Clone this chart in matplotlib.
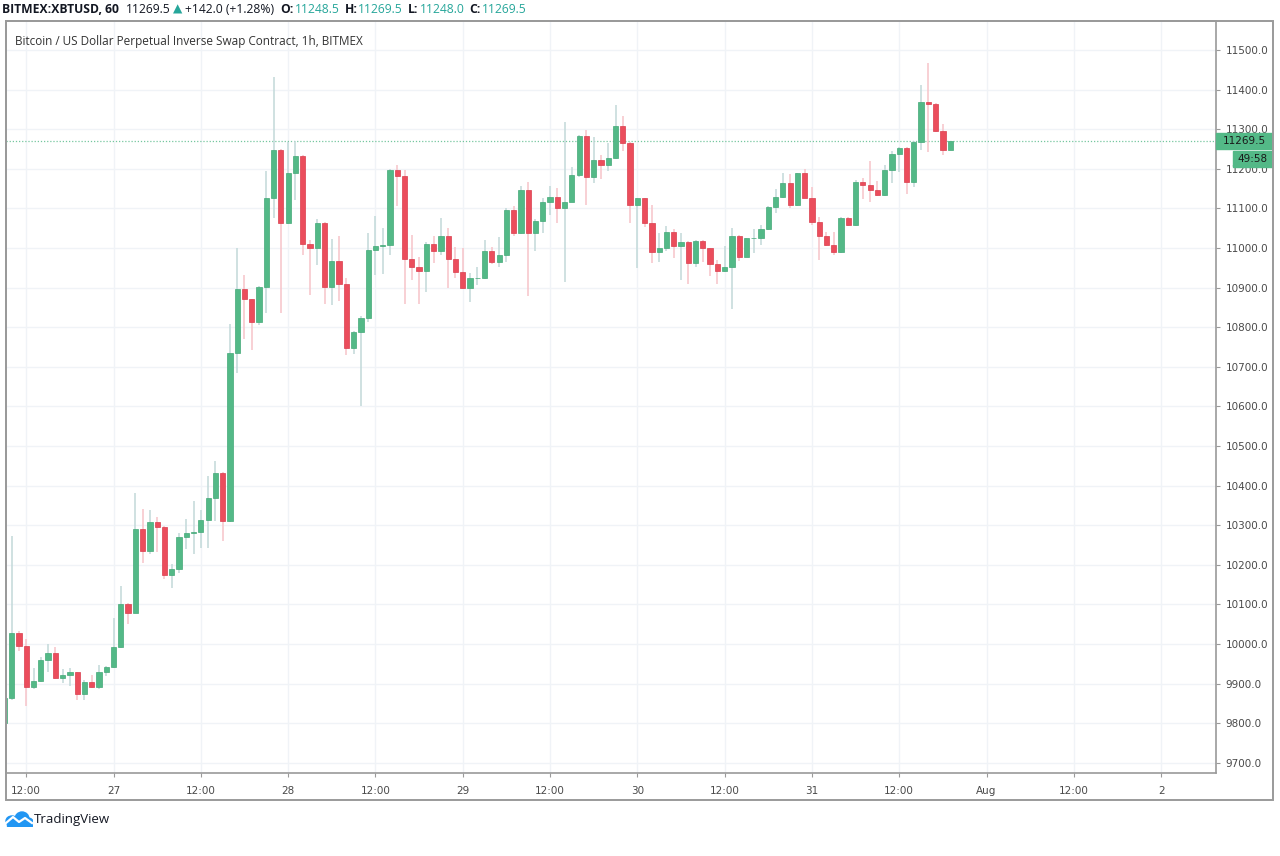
import matplotlib
matplotlib.use("Agg")
import matplotlib.pyplot as plt
import numpy as np
from matplotlib.patches import Rectangle, Ellipse
from matplotlib.transforms import blended_transform_factory

# Dados OHLC (velas de 1h, BITMEX:XBTUSD, a partir de 26 jul 09:00)
opens = [9800, 9863, 10027, 9995, 9892, 9907, 9959, 9978, 9915, 9922,
         9928, 9873, 9903, 9890, 9929, 9942, 9993, 10102, 10079, 10289,
         10234, 10308, 10295, 10174, 10190, 10271, 10279, 10283, 10314, 10368,
         10432, 10310, 10735, 10896, 10870, 10813, 10901, 11126, 11247, 11063,
         11189, 11232, 11010, 11000, 11064, 10901, 10966, 10909, 10746, 10788,
         10824, 10994, 11006, 11008, 11197, 11182, 10972, 10951, 10942, 11010,
         10991, 11031, 10971, 10940, 10900, 10923, 10925, 10993, 10964, 10981,
         11095, 11037, 11146, 11037, 11069, 11117, 11129, 11101, 11117, 11184,
         11283, 11180, 11222, 11210, 11227, 11308, 11265, 11109, 11125, 11062,
         10989, 10999, 11041, 11006, 11016, 10961, 11018, 10999, 10959, 10942,
         10953, 11030, 10978, 11024, 11026, 11048, 11104, 11129, 11165, 11108,
         11188, 11127, 11066, 11029, 11008, 10989, 11075, 11058, 11167, 11160,
         11145, 11134, 11197, 11237, 11253, 11166, 11268, 11369, 11363, 11295,
         11248.5]
highs = [9870, 10272, 10033, 10013, 9938, 9967, 9999, 9993, 9936, 9940,
         9930, 9908, 9921, 9946, 9944, 10066, 10146, 10104, 10382, 10341,
         10339, 10320, 10297, 10203, 10281, 10316, 10362, 10337, 10423, 10462,
         10434, 10809, 11000, 10931, 10872, 10905, 11194, 11432, 11250, 11268,
         11270, 11235, 11021, 11073, 11066, 11022, 11029, 10925, 10790, 10827,
         11038, 11080, 11050, 11200, 11210, 11197, 11033, 10978, 11016, 11031,
         11075, 11050, 11003, 11000, 10936, 10953, 11020, 11003, 11027, 11101,
         11107, 11156, 11166, 11072, 11126, 11156, 11152, 11318, 11204, 11286,
         11298, 11281, 11235, 11265, 11362, 11332, 11268, 11127, 11127, 11109,
         11037, 11055, 11047, 11037, 11018, 11020, 11020, 11001, 10970, 11005,
         11050, 11032, 11024, 11047, 11058, 11106, 11148, 11188, 11187, 11190,
         11198, 11155, 11079, 11039, 11039, 11077, 11077, 11171, 11177, 11220,
         11169, 11209, 11245, 11255, 11255, 11270, 11411, 11468, 11365, 11313,
         11269.5]
lows = [9790, 9858, 9982, 9844, 9886, 9903, 9928, 9911, 9901, 9894,
        9859, 9859, 9888, 9887, 9918, 9940, 9990, 10051, 10077, 10205,
        10226, 10232, 10165, 10142, 10180, 10239, 10226, 10243, 10241, 10310,
        10261, 10308, 10683, 10769, 10742, 10805, 10836, 11075, 10836, 11060,
        11121, 10981, 10880, 10958, 10859, 10855, 10866, 10729, 10733, 10601,
        10813, 10931, 10933, 10981, 11105, 10858, 10920, 10858, 10889, 10961,
        10982, 10900, 10923, 10895, 10864, 10906, 10922, 10960, 10951, 10965,
        11029, 11035, 10878, 10991, 11037, 11084, 11063, 10914, 11115, 11180,
        11109, 11163, 11174, 11195, 11225, 11244, 11062, 10948, 11054, 10963,
        10965, 10991, 10974, 10919, 10909, 10953, 10965, 10929, 10909, 10940,
        10845, 10968, 10976, 10986, 11008, 11046, 11089, 11127, 11100, 11106,
        11125, 11058, 10970, 11006, 10981, 10987, 11056, 11056, 11123, 11117,
        11132, 11132, 11163, 11192, 11136, 11155, 11247, 11243, 11293, 11234,
        11248]
closes = [9863, 10027, 9995, 9892, 9907, 9959, 9978, 9915, 9922, 9928,
          9873, 9903, 9890, 9929, 9942, 9993, 10102, 10079, 10289, 10234,
          10308, 10295, 10174, 10190, 10271, 10279, 10283, 10314, 10368, 10432,
          10310, 10735, 10896, 10870, 10813, 10901, 11126, 11247, 11063, 11189,
          11232, 11010, 11000, 11064, 10901, 10966, 10909, 10746, 10788, 10824,
          10994, 11006, 11008, 11197, 11182, 10972, 10951, 10942, 11010, 10991,
          11031, 10971, 10940, 10900, 10923, 10925, 10993, 10964, 10981, 11095,
          11037, 11146, 11037, 11069, 11117, 11129, 11101, 11117, 11184, 11283,
          11180, 11222, 11210, 11227, 11308, 11265, 11109, 11125, 11062, 10989,
          10999, 11041, 11006, 11016, 10961, 11018, 10999, 10959, 10942, 10953,
          11030, 10978, 11024, 11026, 11048, 11104, 11129, 11165, 11108, 11188,
          11127, 11066, 11029, 11008, 10989, 11075, 11058, 11167, 11160, 11145,
          11134, 11197, 11237, 11253, 11166, 11268, 11369, 11363, 11295, 11247,
          11269.5]

start_hour = 9  # horas desde 26 jul 00:00
last_price = 11269.5
countdown = "49:58"

tick_hours = [12, 24, 36, 48, 60, 72, 84, 96, 108, 120, 132, 144, 156, 168]
tick_labels = ["12:00", "27", "12:00", "28", "12:00", "29", "12:00", "30",
               "12:00", "31", "12:00", "Aug", "12:00", "2"]
price_ticks = [9700 + 100 * i for i in range(19)]

UP = "#53b987"
DOWN = "#eb4d5c"
UP_WICK = "#c2d9d9"
DOWN_WICK = "#f7c3c9"
FRAME = "#9a9a9a"
TXT = "#4a4a4a"
TEAL = "#26a69a"

W, H = 1280, 856
fig = plt.figure(figsize=(12.8, 8.56), dpi=100)
fig.patch.set_facecolor("white")

# eixo principal (em pixels: x 6-1216, y 21-773)
ax = fig.add_axes([6 / W, (H - 773) / H, 1210 / W, 752 / H])

o = np.array(opens)
h = np.array(highs)
l = np.array(lows)
c = np.array(closes)
t = start_hour + np.arange(len(o))
up = c >= o

ax.vlines(t[up], l[up], h[up], color=UP_WICK, lw=1.1, zorder=2)
ax.vlines(t[~up], l[~up], h[~up], color=DOWN_WICK, lw=1.1, zorder=2)
body_h = np.maximum(np.abs(c - o), 1.5)
ax.bar(t, body_h, bottom=np.minimum(o, c), width=0.72,
       color=np.where(up, UP, DOWN), edgecolor=np.where(up, "#43a877", "#d93d4c"),
       linewidth=0.5, zorder=3)

# linha do preço atual
ax.axhline(last_price, color=UP, lw=0.9, ls=(0, (1, 1.5)), alpha=0.8, zorder=1)

ax.set_xlim(9.2165, 9.2165 + 1210 / 7.275)
ax.set_ylim(9674, 11573)

ax.set_xticks(tick_hours)
ax.set_xticklabels(tick_labels)
ax.set_yticks(price_ticks)
ax.set_yticklabels([f"{p:.1f}" for p in price_ticks])
ax.yaxis.tick_right()
ax.tick_params(axis="x", length=3, width=0.8, color=FRAME, labelsize=7.5,
               labelcolor=TXT, pad=6)
ax.tick_params(axis="y", length=3, width=0.8, color=FRAME, labelsize=7.5,
               labelcolor=TXT, pad=4)
ax.grid(True, color="#f0f3f7", lw=1)
ax.set_axisbelow(True)
for s in ax.spines.values():
    s.set_color(FRAME)
    s.set_linewidth(1.2)

# moldura externa
fig.patches.append(Rectangle((6 / W, (H - 800) / H), 1267 / W, 779 / H,
                             transform=fig.transFigure, fill=False,
                             edgecolor=FRAME, lw=1.4))

# etiquetas do preço atual
tr = blended_transform_factory(ax.transAxes, ax.transData)
ppx = 1899 / 752  # preço por pixel
ax.add_patch(Rectangle((1.0, last_price - 8 * ppx), 56 / 1210, 16 * ppx,
                       transform=tr, color=UP, clip_on=False, zorder=5))
ax.text(1.0 + 28 / 1210, last_price, f"{last_price:.1f}", transform=tr,
        ha="center", va="center", fontsize=7.5, color="#1a1a1a", zorder=6)
ax.add_patch(Rectangle((1.0 + 16.5 / 1210, last_price - 26 * ppx), 39.5 / 1210,
                       16 * ppx, transform=tr, color=UP, clip_on=False, zorder=5))
ax.text(1.0 + 36 / 1210, last_price - 18 * ppx, countdown, transform=tr,
        ha="center", va="center", fontsize=7.5, color="#1a1a1a", zorder=6)

# cabeçalho
fam = ["Open Sans", "DejaVu Sans"]
pieces = [("BITMEX:XBTUSD, 60", "#131722", "bold", 7),
          ("11269.5", "#131722", "normal", 2),
          ("\u25b2", TEAL, "normal", 3),
          ("+142.0 (+1.28%)", "#131722", "normal", 6),
          ("O:", "#131722", "bold", 1),
          ("11248.5", TEAL, "normal", 5),
          ("H:", "#131722", "bold", 1),
          ("11269.5", TEAL, "normal", 5),
          ("L:", "#131722", "bold", 1),
          ("11248.0", TEAL, "normal", 5),
          ("C:", "#131722", "bold", 1),
          ("11269.5", TEAL, "normal", 0)]
renderer = fig.canvas.get_renderer()
xpix = 2
for txt, col, wt, gap in pieces:
    tx = fig.text(xpix / W, 1 - 9.5 / H, txt, color=col, fontweight=wt,
                  fontsize=8.7, family=fam, ha="left", va="center")
    xpix += tx.get_window_extent(renderer).width + gap

fig.text(15 / W, 1 - 41.5 / H,
         "Bitcoin / US Dollar Perpetual Inverse Swap Contract, 1h, BITMEX",
         fontsize=8.5, family=fam, color="#333333", ha="left", va="center")

# logo TradingView
lax = fig.add_axes([5 / W, (H - 827) / H, 28 / W, 16 / H])
lax.set_xlim(0, 28)
lax.set_ylim(0, 16)
lax.axis("off")
for cx, cy, ew, eh in [(7, 6, 12, 10), (17, 8, 14, 14), (23, 5, 10, 8)]:
    lax.add_patch(Ellipse((cx, cy), ew, eh, color="#2196f3"))
lax.add_patch(Rectangle((2, 1), 25, 5, color="#2196f3"))
lax.plot([1, 8, 14, 20, 27], [4, 10, 5, 9, 4], color="white", lw=1.6)
fig.text(34 / W, 1 - 819 / H, "TradingView", fontsize=9.5, family=fam,
         color="#131722", ha="left", va="center")

fig.savefig("out.png", dpi=100, facecolor="white")
